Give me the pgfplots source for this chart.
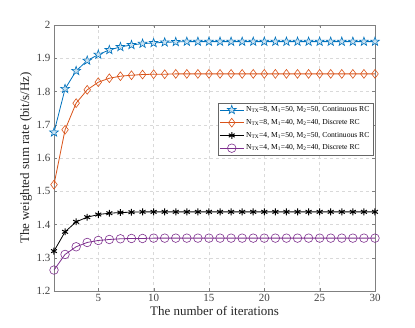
\documentclass[border=0pt]{standalone}
\usepackage{fontspec}
\setmainfont{Liberation Serif}
\usepackage{pgfplots}
\pgfplotsset{compat=1.18}

\definecolor{mblue}{rgb}{0,0.447,0.741}
\definecolor{morange}{rgb}{0.85,0.325,0.098}
\definecolor{mpurple}{rgb}{0.494,0.184,0.556}

\pgfdeclareplotmark{pentagram}{%
  \pgfpathmoveto{\pgfqpointpolar{90}{\pgfplotmarksize}}%
  \pgfpathlineto{\pgfqpointpolar{126}{0.40\pgfplotmarksize}}%
  \pgfpathlineto{\pgfqpointpolar{162}{\pgfplotmarksize}}%
  \pgfpathlineto{\pgfqpointpolar{198}{0.40\pgfplotmarksize}}%
  \pgfpathlineto{\pgfqpointpolar{234}{\pgfplotmarksize}}%
  \pgfpathlineto{\pgfqpointpolar{270}{0.40\pgfplotmarksize}}%
  \pgfpathlineto{\pgfqpointpolar{306}{\pgfplotmarksize}}%
  \pgfpathlineto{\pgfqpointpolar{342}{0.40\pgfplotmarksize}}%
  \pgfpathlineto{\pgfqpointpolar{18}{\pgfplotmarksize}}%
  \pgfpathlineto{\pgfqpointpolar{54}{0.40\pgfplotmarksize}}%
  \pgfpathclose
  \pgfusepathqfillstroke}

\pgfplotstableread{
it  a      b      c      d
1   1.677  1.520  1.320  1.263
2   1.808  1.685  1.378  1.310
3   1.862  1.765  1.408  1.333
4   1.893  1.805  1.422  1.346
5   1.911  1.828  1.430  1.352
6   1.925  1.840  1.434  1.355
7   1.934  1.846  1.436  1.357
8   1.940  1.849  1.437  1.358
9   1.944  1.851  1.438  1.358
10  1.946  1.852  1.438  1.359
11  1.948  1.852  1.438  1.359
12  1.949  1.853  1.438  1.359
13  1.950  1.853  1.438  1.359
14  1.950  1.853  1.438  1.359
15  1.950  1.853  1.438  1.359
16  1.950  1.853  1.438  1.359
17  1.950  1.853  1.438  1.359
18  1.950  1.853  1.438  1.359
19  1.950  1.853  1.438  1.359
20  1.950  1.853  1.438  1.359
21  1.950  1.853  1.438  1.359
22  1.950  1.853  1.438  1.359
23  1.950  1.853  1.438  1.359
24  1.950  1.853  1.438  1.359
25  1.950  1.853  1.438  1.359
26  1.950  1.853  1.438  1.359
27  1.950  1.853  1.438  1.359
28  1.950  1.853  1.438  1.359
29  1.950  1.853  1.438  1.359
30  1.950  1.853  1.438  1.359
}\rates

\begin{document}
\begin{tikzpicture}
\path[use as bounding box] (-54pt,-36pt) rectangle (361pt,291pt);
\begin{axis}[
    at={(0,0)}, anchor=south west,
    scale only axis,
    width=321pt, height=266pt,
    xmin=1, xmax=30, ymin=1.2, ymax=2,
    xtick={5,10,...,30},
    ytick={1.2,1.3,...,2.0},
    yticklabel style={/pgf/number format/fixed, /pgf/number format/precision=1},
    /pgf/number format/assume math mode=true,
    tick label style={font=\fontsize{11}{12}\selectfont, text=black!75},
    label style={font=\fontsize{13}{14}\selectfont, text=black!85},
    xlabel={The number of iterations},
    ylabel={The weighted sum rate (bit/s/Hz)},
    xlabel style={yshift=2pt},
    ylabel style={yshift=-2pt},
    axis line style={black!50},
    tick style={black!50},
    major tick length=3pt,
    grid=major,
    grid style={dashed, black!15},
    legend style={at={(0.994,0.707)}, anchor=north east, font=\fontsize{7.6}{9}\selectfont,
      draw=black!60, inner sep=1.5pt, row sep=2.2pt},
    legend cell align=left,
    legend image code/.code={%
      \draw[mark repeat=2,mark phase=2] plot coordinates {(0cm,0cm) (0.42cm,0cm) (0.84cm,0cm)};},
    every axis plot/.append style={line width=0.8pt},
]
\addplot[mblue, mark=pentagram, mark size=4.6pt, mark options={fill=mblue!20, line width=0.6pt}] table[x=it,y=a] {\rates};
\addplot[morange, mark=diamond, mark size=4.4pt, mark options={fill=white, line width=0.6pt}] table[x=it,y=b] {\rates};
\addplot[black, mark=asterisk, mark size=3.4pt, mark options={line width=1pt}] table[x=it,y=c] {\rates};
\addplot[mpurple, mark=o, mark size=4.3pt, mark options={line width=0.6pt}] table[x=it,y=d] {\rates};
\legend{{N\textsubscript{TX}=8, M\textsubscript{1}=50, M\textsubscript{2}=50, Continuous RC},
        {N\textsubscript{TX}=8, M\textsubscript{1}=40, M\textsubscript{2}=40, Discrete RC},
        {N\textsubscript{TX}=4, M\textsubscript{1}=50, M\textsubscript{2}=50, Continuous RC},
        {N\textsubscript{TX}=4, M\textsubscript{1}=40, M\textsubscript{2}=40, Discrete RC}}
\end{axis}
\end{tikzpicture}
\end{document}
